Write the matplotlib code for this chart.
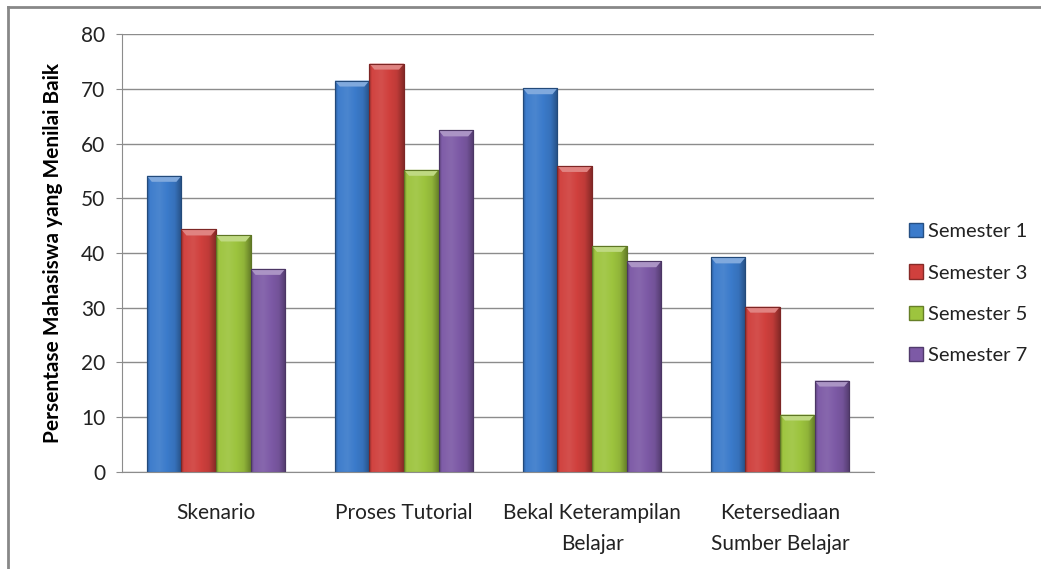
import numpy as np
import matplotlib
matplotlib.use("Agg")
import matplotlib.pyplot as plt
from matplotlib.patches import Rectangle, Polygon, Patch
from matplotlib.lines import Line2D
from matplotlib.colors import to_rgb

categories = ["Skenario", "Proses Tutorial", "Bekal Keterampilan\nBelajar", "Ketersediaan\nSumber Belajar"]
series_names = ["Semester 1", "Semester 3", "Semester 5", "Semester 7"]
sem1 = [54.1, 71.5, 70.1, 39.2]
sem3 = [44.3, 74.6, 55.9, 30.2]
sem5 = [43.2, 55.2, 41.3, 10.5]
sem7 = [37.1, 62.4, 38.5, 16.7]
yticks = [0, 10, 20, 30, 40, 50, 60, 70, 80]

series = [sem1, sem3, sem5, sem7]
base_colors = ["#3B7BCB", "#D0403D", "#9DC43E", "#7D5AA6"]

plt.rcParams['font.family'] = ['Lato', 'DejaVu Sans']
fig = plt.figure(figsize=(10.41, 5.69), dpi=100)
ax = fig.add_axes([0.1172, 0.1705, 0.7224, 0.7697])

ax.set_xlim(-0.5, len(categories) - 0.5)
ax.set_ylim(0, 80)
ax.set_yticks(yticks)
ax.yaxis.grid(True, color="#8C8C8C", linewidth=1.0)
ax.set_axisbelow(True)
for s in ["top", "right"]:
    ax.spines[s].set_visible(False)
ax.spines["left"].set_color("#8C8C8C")
ax.spines["bottom"].set_color("#8C8C8C")
ax.tick_params(axis="y", colors="#8C8C8C", length=4, labelcolor="#222222", labelsize=15, pad=8)
ax.tick_params(axis="x", length=0, labelsize=15, labelcolor="#222222", pad=22)
ax.set_xticks(range(len(categories)))
ax.set_xticklabels(categories, linespacing=1.7)
ax.set_ylabel("Persentase Mahasiswa yang Menilai Baik", fontsize=15, fontweight="bold", labelpad=13)

bw = 0.184
x = np.arange(len(categories))
fig.canvas.draw()
px_per_unit = ax.transData.transform((0, 1))[1] - ax.transData.transform((0, 0))[1]
px_per_x = ax.transData.transform((1, 0))[0] - ax.transData.transform((0, 0))[0]
cap_h = 6 / px_per_unit
cap_dx = 5 / px_per_x

def shade(c, f):
    r = np.array(to_rgb(c))
    if f >= 0:
        return r + (1 - r) * f
    return r * (1 + f)

for i, (vals, col) in enumerate(zip(series, base_colors)):
    offs = (i - 1.5) * bw
    bars = ax.bar(x + offs, vals, width=bw, color=col, edgecolor=shade(col, -0.35), linewidth=0.8, zorder=2)
    t = np.linspace(0, 1, 64)
    prof = np.interp(t, [0, 0.08, 0.35, 0.8, 1.0], [-0.25, 0.02, 0.08, -0.08, -0.35])
    grad = np.array([shade(col, f) for f in prof])[None, :, :]
    for b, v in zip(bars, vals):
        x0 = b.get_x()
        x1 = x0 + b.get_width()
        im = ax.imshow(grad, extent=[x0, x1, 0, v], aspect="auto", zorder=2.1, interpolation="bilinear")
        im.set_clip_path(b)
        cap = Polygon([(x0, v), (x1, v), (x1 - cap_dx, v - cap_h), (x0 + cap_dx, v - cap_h)],
                      closed=True, facecolor=shade(col, 0.35), edgecolor="none", zorder=2.2)
        ax.add_patch(cap)
        ax.add_patch(Rectangle((x0, 0), x1 - x0, v, fill=False, edgecolor=shade(col, -0.4), linewidth=0.8, zorder=2.3))

ax.set_xlim(-0.5, len(categories) - 0.5)
ax.set_ylim(0, 80)

handles = [Patch(facecolor=c, edgecolor=shade(c, -0.35), label=n) for c, n in zip(base_colors, series_names)]
leg = fig.legend(handles=handles, loc="center left", bbox_to_anchor=(0.873, 0.484), frameon=False,
                 fontsize=14.5, handlelength=0.7, handleheight=0.7, handletextpad=0.25, labelspacing=1.2,
                 borderpad=0, borderaxespad=0)
for txt in leg.get_texts():
    txt.set_color("#222222")

# outer chart border (top and left edges visible within the image)
fig.add_artist(Line2D([8 / 1041, 8 / 1041], [0, 1 - 7 / 569], transform=fig.transFigure, color="#888888", linewidth=2))
fig.add_artist(Line2D([8 / 1041, 1], [1 - 7 / 569, 1 - 7 / 569], transform=fig.transFigure, color="#888888", linewidth=2))

fig.savefig("out.png", dpi=100)
